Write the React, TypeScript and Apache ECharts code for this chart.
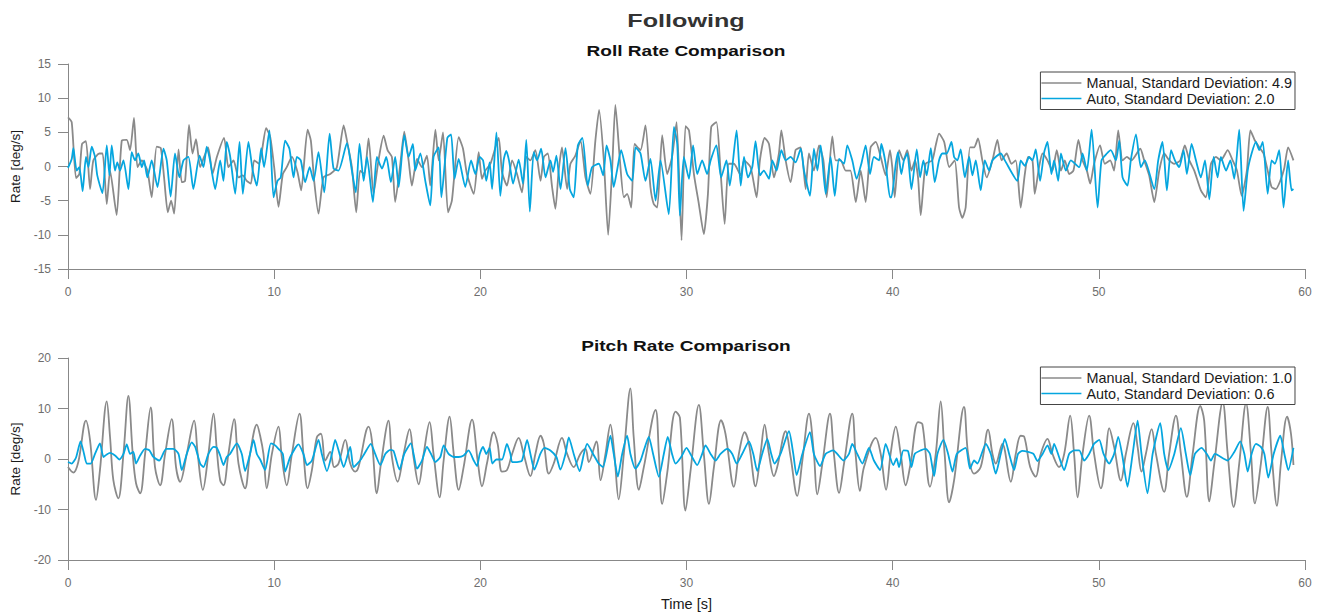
import React, { useEffect, useRef } from "react";
import * as echarts from "echarts";

const mainTitle = "Following";
const rollTitle = "Roll Rate Comparison";
const pitchTitle = "Pitch Rate Comparison";
const yName = "Rate [deg/s]";
const xName = "Time [s]";
const rollNames = ["Manual, Standard Deviation: 4.9", "Auto, Standard Deviation: 2.0"];
const pitchNames = ["Manual, Standard Deviation: 1.0", "Auto, Standard Deviation: 0.6"];

const rollManual: number[][] = [
  [0,7.2],[0.18,6.5],[0.39,-1.7],[0.55,-1.1],[0.68,3.3],[0.87,3.7],[1.07,-3.3],[1.23,0.9],[1.52,1.9],[1.68,1.9],[1.88,-5.5],[2.04,-0.6],[2.36,-7.1],[2.61,3.8],[2.85,3.9],[3.01,2.4],[3.2,7.1],[3.37,-0.1],[3.58,0.9],[3.85,-0.6],[4.06,-4.5],[4.3,2.9],[4.5,2.7],[4.66,-1.6],[4.84,-6.7],[5.0,-5.0],[5.15,-6.9],[5.36,2.5],[5.52,-2.3],[5.68,-2.1],[5.87,6.1],[6.04,1.9],[6.21,4.0],[6.41,-0.1],[6.6,1.4],[6.8,2.8],[7.01,-1.1],[7.22,1.4],[7.57,4.2],[7.78,-0.1],[8.03,0.9],[8.27,-1.6],[8.48,-1.3],[8.67,-2.1],[8.87,-2.5],[9.03,0.9],[9.27,0.4],[9.61,5.6],[9.81,4.3],[10.0,-0.1],[10.21,-5.9],[10.42,-1.1],[10.61,-0.1],[10.86,1.4],[11.13,-0.8],[11.31,-3.5],[11.62,5.4],[11.78,3.8],[11.94,-2.1],[12.15,-6.9],[12.39,-1.6],[12.72,-1.1],[13.04,-0.1],[13.37,6.0],[13.56,3.3],[13.77,-0.1],[13.98,-6.7],[14.17,-0.6],[14.37,-1.1],[14.58,4.1],[14.82,-4.0],[15.06,0.9],[15.31,4.5],[15.5,2.4],[15.71,1.4],[15.87,-5.2],[16.12,0.4],[16.31,5.1],[16.52,0.9],[16.68,-2.8],[16.93,1.1],[17.17,-0.1],[17.41,1.6],[17.57,-2.8],[17.82,5.4],[17.98,0.9],[18.19,5.0],[18.43,-6.7],[18.62,-5.0],[18.95,4.3],[19.16,2.6],[19.35,-1.1],[19.68,-4.0],[19.92,2.1],
  [20.08,-1.8],[20.24,-0.6],[20.49,0.4],[20.89,4.2],[21.05,-0.8],[21.29,-2.8],[21.54,0.9],[21.78,-1.1],[22.02,-3.8],[22.23,1.4],[22.43,0.9],[22.67,2.4],[22.92,-2.1],[23.08,1.4],[23.27,1.9],[23.48,-3.0],[23.64,-6.2],[23.8,-0.6],[23.96,2.8],[24.21,-3.3],[24.37,0.4],[24.61,1.6],[24.86,3.8],[25.1,-1.6],[25.34,-4.0],[25.58,3.8],[25.76,8.3],[25.99,0.9],[26.2,-10.0],[26.39,-0.6],[26.55,9.0],[26.77,0.9],[26.96,-4.5],[27.12,-4.0],[27.32,-6.0],[27.48,3.3],[27.77,2.4],[28.01,6.0],[28.25,-3.0],[28.41,-5.5],[28.58,-6.0],[28.82,4.6],[29.06,-1.1],[29.3,1.4],[29.52,6.5],[29.76,-10.8],[29.95,5.9],[30.12,5.3],[30.36,-1.1],[30.6,-5.5],[30.84,-9.9],[31.04,-4.0],[31.2,5.8],[31.45,6.5],[31.65,-0.6],[31.85,-8.4],[32.05,0.4],[32.3,0.4],[32.63,-1.3],[32.79,0.9],[33.11,-0.1],[33.4,-4.5],[33.56,0.9],[33.79,4.2],[34.0,3.3],[34.24,-1.6],[34.48,1.9],[34.6,5.3],[34.81,0.9],[35.05,-2.3],[35.29,2.4],[35.54,2.8],[35.78,-3.3],[35.94,1.9],[36.18,-0.6],[36.43,3.1],[36.64,0.9],[36.8,-4.5],[37.07,4.4],[37.24,0.9],[37.48,0.9],[37.72,-0.6],[37.95,-0.6],[38.21,-5.2],[38.45,-0.6],[38.69,-5.2],[38.93,2.8],[39.18,3.6],[39.42,1.4],[39.66,-1.3],[39.87,2.4],
  [39.98,-0.1],[40.1,-4.5],[40.31,2.4],[40.52,0.9],[40.71,2.4],[40.91,-0.6],[41.08,0.9],[41.23,-1.6],[41.36,-7.1],[41.6,0.4],[41.92,0.9],[42.09,3.1],[42.25,4.8],[42.5,3.6],[42.74,-0.1],[43.01,0.9],[43.22,-6.0],[43.38,-7.5],[43.54,-6.0],[43.75,2.8],[43.95,2.8],[44.14,4.1],[44.35,0.9],[44.56,-1.6],[44.84,0.9],[45.08,3.9],[45.28,0.9],[45.53,1.9],[45.76,0.4],[45.97,0.9],[46.21,-6.0],[46.41,-1.1],[46.57,1.4],[46.78,0.9],[46.89,-4.0],[47.1,-0.1],[47.27,1.9],[47.51,0.9],[47.75,-0.6],[47.96,2.4],[48.16,-0.6],[48.35,0.9],[48.56,-1.1],[48.77,-0.6],[49.01,3.9],[49.21,0.9],[49.42,-0.6],[49.58,-2.5],[49.77,0.4],[50.06,3.1],[50.29,0.4],[50.55,0.9],[50.74,-0.6],[50.94,5.3],[51.15,0.9],[51.36,1.4],[51.59,0.9],[52.01,2.6],[52.2,0.9],[52.44,-1.3],[52.69,-5.2],[52.93,-0.6],[53.17,1.9],[53.42,0.9],[53.66,0.4],[53.95,0.9],[54.17,3.1],[54.39,0.9],[54.63,-0.6],[54.95,-3.5],[55.19,-4.5],[55.44,0.4],[55.68,1.4],[55.92,0.9],[56.25,2.4],[56.49,0.9],[56.7,-0.6],[56.93,-4.3],[57.18,-0.6],[57.35,5.3],[57.57,3.8],[57.78,2.8],[57.99,1.9],[58.19,-0.6],[58.38,-3.0],[58.59,-3.3],[58.8,-2.1],[58.99,-0.3],[59.18,2.8],[59.44,0.9]
];

const rollAuto: number[][] = [
  [0,-0.2],[0.18,1.1],[0.26,2.7],[0.42,-0.6],[0.55,-0.1],[0.71,-3.6],[0.87,1.4],[0.99,-0.1],[1.15,2.9],[1.31,1.4],[1.42,-1.3],[1.67,-3.9],[1.88,3.1],[2.01,-1.3],[2.12,3.1],[2.28,-0.6],[2.39,0.6],[2.52,-0.6],[2.69,0.9],[2.93,-3.3],[3.09,2.1],[3.25,0.9],[3.41,1.9],[3.58,-0.1],[3.69,0.9],[3.85,-1.6],[4.06,0.9],[4.34,-3.0],[4.63,2.6],[4.79,0.9],[4.98,-4.4],[5.19,1.9],[5.4,-1.6],[5.6,0.9],[5.84,1.4],[6.08,-3.3],[6.38,1.6],[6.57,-0.1],[6.73,2.9],[6.89,0.9],[7.14,-3.3],[7.38,0.9],[7.54,-2.1],[7.7,3.6],[7.86,1.6],[8.11,-4.0],[8.32,3.6],[8.48,-4.0],[8.75,3.6],[8.96,-0.6],[9.16,-2.8],[9.37,2.7],[9.51,-0.1],[9.77,5.3],[9.97,-4.5],[10.16,-2.1],[10.32,-1.6],[10.53,3.8],[10.74,2.6],[10.94,-1.6],[11.1,1.4],[11.29,0.9],[11.5,-2.3],[11.72,-0.1],[11.91,-2.1],[12.15,2.1],[12.43,-3.8],[12.69,4.8],[12.88,-0.3],[13.12,-0.6],[13.53,3.4],[13.77,-0.6],[13.96,-3.8],[14.14,3.3],[14.34,-2.1],[14.5,1.4],[14.79,-5.2],[14.98,1.4],[15.23,-0.3],[15.44,1.4],[15.66,-2.3],[15.87,1.4],[16.04,-3.0],[16.31,4.6],[16.52,1.4],[16.73,3.3],[16.84,-0.6],[17.09,1.9],[17.33,-2.1],[17.57,-5.7],[17.73,1.4],[17.98,2.8],[18.11,-4.5],[18.4,4.2],[18.58,4.7],[18.75,-1.8],[18.95,1.1],[19.27,-3.0],[19.55,0.9],[19.76,-1.1],
  [19.97,1.4],[20.13,0.9],[20.29,-2.1],[20.45,0.6],[20.57,-3.3],[20.78,5.0],[20.97,-4.3],[21.13,0.9],[21.26,2.3],[21.39,0.9],[21.59,-2.5],[21.86,1.0],[22.07,-2.5],[22.23,3.9],[22.4,-6.6],[22.59,2.1],[22.75,0.9],[22.95,2.6],[23.16,-1.6],[23.4,0.9],[23.53,-0.8],[23.69,1.6],[23.89,-3.3],[24.13,2.7],[24.34,-3.3],[24.53,-4.5],[24.73,3.1],[24.95,4.2],[25.21,-2.8],[25.42,-0.1],[25.75,0.4],[25.96,-1.3],[26.12,3.1],[26.31,0.9],[26.47,-3.0],[26.63,-0.6],[26.83,2.4],[27.12,-1.1],[27.37,-2.1],[27.53,2.8],[27.77,1.9],[28.01,-2.1],[28.25,1.1],[28.5,-5.0],[28.74,0.9],[29.14,-7.0],[29.39,5.8],[29.55,3.3],[29.68,-7.2],[29.87,1.4],[30.12,-1.8],[30.32,3.1],[30.52,-1.1],[30.76,0.9],[31.0,-1.1],[31.17,0.9],[31.45,3.1],[31.68,-1.6],[31.94,0.9],[32.1,-2.8],[32.43,5.3],[32.63,-2.8],[32.79,1.4],[32.98,-1.6],[33.19,-0.1],[33.35,3.7],[33.56,-1.3],[33.75,-0.6],[34.0,-1.8],[34.16,0.9],[34.37,-0.6],[34.6,2.4],[34.81,0.9],[35.05,1.4],[35.29,0.6],[35.54,2.6],[35.7,-0.6],[35.99,-4.3],[36.18,2.6],[36.35,-0.6],[36.51,3.1],[36.75,-4.0],[36.99,1.4],[37.19,-4.3],[37.4,1.1],[37.64,0.4],[37.8,3.1],[38.04,0.9],[38.25,-1.8],[38.48,0.4],[38.69,3.1],[38.9,-1.1],[39.09,1.4],[39.34,0.9],[39.45,3.3],[39.66,0.4],[39.87,-4.5],
  [39.94,-4.5],[40.15,0.4],[40.26,2.1],[40.42,-1.1],[40.55,0.9],[40.71,1.9],[40.91,-3.3],[41.17,2.5],[41.33,-1.6],[41.49,0.9],[41.65,-1.3],[41.85,2.7],[42.04,-2.3],[42.25,0.9],[42.41,1.9],[42.62,1.9],[42.85,3.6],[42.98,1.4],[43.14,0.9],[43.3,2.5],[43.5,-1.6],[43.71,1.4],[43.87,-1.3],[44.03,0.9],[44.27,-3.5],[44.47,0.9],[44.68,-0.6],[44.84,0.9],[45.24,1.9],[45.44,0.9],[46.05,-2.1],[46.21,0.9],[46.41,0.1],[46.62,1.4],[46.78,0.9],[46.94,2.5],[47.15,-2.1],[47.35,2.1],[47.51,3.6],[47.7,-1.1],[47.83,0.9],[48.03,-2.1],[48.16,1.9],[48.4,-0.6],[48.64,0.9],[49.05,-0.1],[49.21,1.9],[49.42,-0.6],[49.65,5.4],[49.94,-6.0],[50.13,0.9],[50.39,1.9],[50.58,2.4],[50.83,0.9],[50.99,3.8],[51.15,-1.6],[51.39,-2.8],[51.55,0.9],[51.8,4.7],[52.04,-0.1],[52.23,0.9],[52.69,-3.3],[52.88,0.9],[53.09,3.6],[53.3,-3.5],[53.5,2.4],[53.69,0.9],[53.9,-0.1],[54.11,2.4],[54.27,-1.1],[54.5,3.3],[54.71,0.9],[54.95,-1.6],[55.15,0.9],[55.36,-4.8],[55.57,1.4],[55.76,-1.6],[55.92,1.4],[56.17,-0.6],[56.38,0.9],[56.57,-1.8],[56.81,5.4],[57.02,-6.5],[57.22,-0.6],[57.41,1.9],[57.62,3.6],[57.78,2.4],[57.95,3.6],[58.19,-4.0],[58.38,0.9],[58.54,0.4],[58.75,2.4],[58.96,-6.0],[59.18,0.9],[59.35,-3.5],[59.44,-3.3]
];

const pitchManual: number[][] = [
  [0,-1.6],[0.26,-2.7],[0.5,-0.6],[0.87,7.6],[1.07,3.7],[1.36,-8.1],[1.55,-2.2],[1.88,11.4],[2.04,4.3],[2.2,-4.2],[2.44,-7.8],[2.69,1.0],[2.93,12.5],[3.14,1.0],[3.3,-4.8],[3.5,-6.8],[3.74,1.0],[4.01,10.2],[4.22,-1.6],[4.47,-5.2],[4.71,1.0],[5.03,7.9],[5.24,-1.6],[5.44,-4.5],[5.76,1.0],[6.12,7.6],[6.29,1.0],[6.54,-6.1],[6.81,1.0],[7.06,9.0],[7.22,1.7],[7.38,-4.2],[7.54,-5.2],[7.78,1.0],[8.06,7.9],[8.27,-0.9],[8.59,-5.8],[8.83,1.0],[9.16,6.8],[9.32,4.6],[9.48,1.0],[9.64,-5.8],[9.89,1.0],[10.21,6.4],[10.37,0.4],[10.61,-5.2],[10.86,1.0],[11.23,9.0],[11.42,1.0],[11.62,-5.8],[11.83,-2.2],[12.07,4.3],[12.27,5.0],[12.48,-0.3],[12.72,1.4],[12.91,-1.6],[13.12,-0.9],[13.45,3.8],[13.69,-0.9],[13.93,-2.5],[14.09,-1.6],[14.58,6.4],[14.74,3.7],[14.98,-6.8],[15.18,-0.9],[15.55,7.6],[15.71,0.4],[15.99,-4.5],[16.28,1.0],[16.57,5.9],[16.76,0.4],[17.01,-5.0],[17.25,1.0],[17.54,7.3],[17.73,1.0],[18.03,-7.6],[18.22,-0.3],[18.51,8.4],[18.71,1.0],[18.95,-6.1],[19.19,-1.6],[19.6,7.8],
  [19.87,-0.3],[20.08,-5.4],[20.32,-0.9],[20.65,5.3],[20.84,3.0],[21.05,-2.5],[21.29,-2.2],[21.54,1.0],[21.86,4.2],[22.1,1.0],[22.43,-3.4],[22.67,1.0],[22.92,4.6],[23.08,3.0],[23.32,-2.9],[23.56,-0.9],[23.96,4.2],[24.21,1.0],[24.53,-1.6],[24.85,1.0],[25.1,2.0],[25.26,-0.6],[25.63,3.5],[25.83,-4.2],[26.07,1.0],[26.31,6.8],[26.5,1.0],[26.71,-8.0],[26.96,1.0],[27.28,14.0],[27.44,4.3],[27.69,-6.1],[27.93,-1.6],[28.5,9.7],[28.66,1.0],[28.82,-8.9],[29.06,-2.9],[29.47,9.4],[29.68,8.2],[29.95,-10.2],[30.2,-2.2],[30.6,10.7],[30.84,1.0],[31.09,-8.9],[31.33,-1.6],[31.68,7.7],[31.89,5.0],[32.3,-5.5],[32.54,1.0],[32.82,5.3],[33.03,3.0],[33.35,-5.4],[33.59,1.0],[33.79,6.8],[34.0,1.0],[34.24,-3.4],[34.4,-1.6],[34.81,5.5],[35.05,0.4],[35.37,-7.3],[35.62,-0.3],[35.94,9.0],[36.18,1.0],[36.34,-7.0],[36.59,-0.9],[36.96,9.0],[37.15,1.0],[37.4,-6.7],[37.64,-0.9],[38.04,9.0],[38.2,1.0],[38.41,-6.3],[38.61,-1.6],[39.18,4.2],[39.42,1.0],[39.68,-6.1],
  [39.9,1.0],[40.15,6.4],[40.39,1.0],[40.63,-5.2],[40.87,-0.9],[41.23,7.3],[41.44,6.9],[41.81,-5.5],[42.09,1.0],[42.33,11.4],[42.52,1.0],[42.74,-8.6],[42.98,-4.2],[43.46,10.3],[43.66,1.0],[43.95,-2.9],[44.27,-1.6],[44.63,5.8],[44.84,1.0],[45.0,-0.9],[45.32,3.0],[45.73,-4.5],[45.97,1.0],[46.21,4.6],[46.38,4.4],[46.67,-1.6],[46.94,-3.5],[47.18,1.0],[47.51,4.0],[47.75,1.0],[48.07,-1.6],[48.32,1.0],[48.61,8.6],[48.8,1.0],[48.97,-7.6],[49.21,1.0],[49.53,8.6],[49.77,1.0],[50.1,-5.8],[50.34,1.0],[50.5,6.1],[50.74,2.4],[51.07,-4.3],[51.31,1.0],[51.68,7.1],[51.88,2.4],[52.07,-2.5],[52.28,1.0],[52.56,5.9],[52.77,1.0],[53.17,-6.5],[53.41,1.0],[53.74,8.6],[53.98,1.0],[54.27,-7.5],[54.55,1.0],[54.92,10.5],[55.11,7.6],[55.36,-8.4],[55.6,-0.9],[56.01,11.2],[56.25,1.0],[56.54,-9.5],[56.81,-0.9],[57.14,11.0],[57.38,1.0],[57.57,-8.8],[57.86,-0.9],[58.19,10.3],[58.38,1.0],[58.64,-9.3],[58.83,-0.9],[59.13,8.4],[59.32,5.0],[59.44,-1.2]
];

const pitchAuto: number[][] = [
  [0,-0.6],[0.18,-0.9],[0.39,0.3],[0.61,3.5],[0.78,1.0],[0.91,-0.9],[1.1,-0.9],[1.31,1.0],[1.55,3.1],[1.72,0.4],[1.88,0.9],[2.04,1.2],[2.28,0.7],[2.49,-0.1],[2.69,1.0],[2.85,2.9],[3.01,1.0],[3.17,1.4],[3.3,-0.9],[3.5,0.7],[3.74,2.0],[3.95,1.7],[4.14,0.4],[4.43,-0.3],[4.76,2.0],[5.11,2.0],[5.36,1.0],[5.52,-2.2],[5.76,1.0],[6.0,3.3],[6.17,2.4],[6.41,-0.9],[6.57,-1.6],[6.81,1.0],[7.06,2.4],[7.22,2.2],[7.38,0.7],[7.54,-1.2],[7.7,0.4],[7.86,1.0],[8.19,3.1],[8.43,1.0],[8.59,-2.4],[8.83,1.0],[9.0,3.8],[9.16,1.0],[9.32,-0.1],[9.56,-2.2],[9.84,3.1],[10.05,2.7],[10.21,2.0],[10.42,1.0],[10.53,-2.5],[10.78,0.4],[11.18,2.9],[11.42,1.0],[11.59,-1.2],[11.83,-0.3],[12.15,3.8],[12.31,1.0],[12.56,-2.4],[12.8,1.0],[12.96,3.8],[13.17,1.0],[13.37,-1.6],[13.69,2.4],[13.85,-1.6],[14.17,-0.3],[14.37,1.0],[14.69,3.0],[14.9,1.0],[15.15,-1.2],[15.39,1.0],[15.63,1.8],[15.79,1.6],[16.08,-2.1],[16.31,1.0],[16.63,3.1],[16.93,-1.9],[17.17,-0.3],[17.41,2.4],[17.61,1.0],[17.82,-0.6],[18.06,0.4],[18.22,2.7],[18.46,1.0],[18.71,0.4],[18.95,0.4],[19.19,0.7],[19.43,1.7],[19.68,-0.3],[19.84,-1.4],
  [19.97,1.0],[20.13,2.4],[20.29,1.0],[20.45,2.2],[20.58,-0.9],[20.78,-0.1],[21.05,-0.1],[21.29,3.0],[21.46,1.0],[21.54,-0.6],[21.78,-0.6],[22.02,-0.3],[22.27,3.8],[22.43,1.0],[22.62,-2.1],[22.91,1.0],[23.11,2.2],[23.4,1.7],[23.69,0.4],[23.88,-2.1],[24.13,1.0],[24.29,4.3],[24.53,1.0],[24.82,-2.4],[25.02,1.0],[25.18,3.0],[25.47,1.0],[25.74,-0.9],[25.95,-1.6],[26.31,4.6],[26.47,1.0],[26.67,-3.5],[26.88,1.0],[27.12,4.6],[27.28,1.0],[27.52,-1.9],[27.77,-0.3],[27.93,1.7],[28.17,4.4],[28.38,1.0],[28.66,-3.5],[28.9,1.0],[29.09,4.4],[29.3,1.0],[29.47,-0.9],[29.74,0.4],[30.0,2.2],[30.19,1.0],[30.52,-1.2],[30.76,1.0],[30.92,2.7],[31.17,1.0],[31.41,-0.3],[31.65,1.0],[31.98,2.0],[32.22,1.0],[32.43,-0.9],[32.7,1.0],[33.03,3.5],[33.24,1.0],[33.43,-2.4],[33.67,1.0],[33.92,4.0],[34.11,1.0],[34.27,-0.9],[34.56,1.0],[34.97,5.5],[35.18,1.0],[35.34,-3.2],[35.62,1.0],[35.99,5.3],[36.18,1.0],[36.48,-1.4],[36.75,1.0],[37.12,1.7],[37.31,1.0],[37.61,-0.3],[37.88,1.0],[38.04,3.0],[38.28,1.0],[38.53,-0.9],[38.85,2.2],[39.09,-0.3],[39.39,-2.2],[39.66,3.0],
  [40.03,-1.2],[40.19,0.1],[40.31,-1.6],[40.52,1.7],[40.74,1.6],[40.91,-1.6],[41.07,1.0],[41.36,1.7],[41.6,2.0],[41.81,1.0],[42.01,-3.4],[42.17,1.0],[42.46,3.8],[42.69,1.0],[42.9,-2.5],[43.11,1.0],[43.54,2.2],[43.75,-1.9],[43.95,-0.3],[44.11,-0.9],[44.52,3.0],[44.76,1.0],[45.0,-2.9],[45.24,1.0],[45.44,4.0],[45.65,1.0],[45.89,-2.2],[46.08,1.0],[46.29,1.6],[46.57,1.4],[46.83,1.0],[47.02,-0.4],[47.27,1.0],[47.51,2.7],[47.7,1.0],[47.83,3.0],[48.07,0.4],[48.32,-2.2],[48.56,1.0],[48.8,1.7],[49.05,1.7],[49.29,-0.3],[49.53,1.0],[49.77,3.0],[50.02,3.8],[50.23,1.0],[50.5,-0.9],[50.74,1.0],[50.94,4.4],[51.15,0.4],[51.39,-5.5],[51.64,1.0],[51.88,7.6],[52.07,1.0],[52.36,-6.8],[52.61,1.0],[52.98,7.1],[53.17,1.0],[53.37,-2.2],[53.66,1.0],[53.98,6.1],[54.22,1.0],[54.43,-3.2],[54.66,1.0],[54.98,2.2],[55.24,1.0],[55.44,-0.3],[55.63,1.0],[56.25,-0.3],[56.57,1.4],[56.86,3.5],[57.06,1.0],[57.22,-2.5],[57.41,1.0],[57.62,3.0],[57.86,2.4],[58.03,1.0],[58.22,-3.7],[58.48,1.0],[58.8,4.6],[59.0,1.0],[59.19,-2.2],[59.44,2.2]
];

const xTicks = { min: 0, max: 60, interval: 10 };
const rollTicks = { min: -15, max: 15, interval: 5 };
const pitchTicks = { min: -20, max: 20, interval: 10 };

const GREY = "#8a8a8a";
const BLUE = "#05a6df";
const FONT = "'Liberation Sans', Arial, sans-serif";

function xAxisOpt(gridIndex: number, withName: boolean) {
  return {
    type: "value",
    gridIndex,
    ...xTicks,
    name: withName ? xName : "",
    nameLocation: "middle",
    nameGap: 36,
    nameTextStyle: { color: "#1a1a1a", fontSize: 14.5, fontFamily: FONT },
    axisLine: { show: true, onZero: false, lineStyle: { color: "#888", width: 1 } },
    axisTick: { show: true, inside: false, length: 10, lineStyle: { color: "#888" } },
    axisLabel: { color: "#6e6e6e", fontSize: 12, fontFamily: FONT, margin: 17 },
    splitLine: { show: false },
  };
}

function yAxisOpt(gridIndex: number, ticks: { min: number; max: number; interval: number }) {
  return {
    type: "value",
    gridIndex,
    ...ticks,
    name: yName,
    nameLocation: "middle",
    nameRotate: 90,
    nameGap: 42,
    nameTextStyle: { color: "#1a1a1a", fontSize: 13.5, fontFamily: FONT },
    axisLine: { show: true, onZero: false, lineStyle: { color: "#888", width: 1 } },
    axisTick: { show: true, inside: false, length: 10, lineStyle: { color: "#888" } },
    axisLabel: { color: "#6e6e6e", fontSize: 12, fontFamily: FONT, margin: 17 },
    splitLine: { show: false },
  };
}

function legendOpt(top: number, names: string[]) {
  return {
    data: names,
    orient: "vertical",
    right: 28,
    top,
    icon: "path://M0,0H40V1.3H0Z",
    itemWidth: 40,
    itemHeight: 14,
    itemGap: 1.5,
    padding: [4, 3, 4, 1],
    borderColor: "#444",
    borderWidth: 1,
    backgroundColor: "#fff",
    textStyle: { color: "#1a1a1a", fontSize: 14.4, fontFamily: FONT },
  };
}

function lineSeries(name: string, data: number[][], color: string, idx: number, smooth: number | boolean) {
  return {
    name,
    type: "line",
    xAxisIndex: idx,
    yAxisIndex: idx,
    data,
    symbol: "none",
    showSymbol: false,
    smooth,
    lineStyle: { color, width: 1.8 },
    itemStyle: { color },
    emphasis: { disabled: true },
  };
}

function titleText(text: string, y: number, size: number, scaleX: number, fill: string) {
  return {
    type: "text",
    x: 686,
    y,
    scaleX,
    style: {
      text,
      fill,
      font: `bold ${size}px ${FONT}`,
      align: "center",
      verticalAlign: "middle",
      textAlign: "center",
      textVerticalAlign: "middle",
    },
  };
}

export default function App() {
  const ref = useRef<HTMLDivElement>(null);
  useEffect(() => {
    if (!ref.current) return;
    const chart = echarts.init(ref.current, null, { renderer: "svg" });
    chart.setOption({
      animation: false,
      backgroundColor: "#fff",
      textStyle: { fontFamily: FONT },
      grid: [
        { left: 68, top: 64, width: 1237, height: 205 },
        { left: 68, top: 358, width: 1237, height: 205 },
      ],
      xAxis: [xAxisOpt(0, false), xAxisOpt(1, true)],
      yAxis: [yAxisOpt(0, rollTicks), yAxisOpt(1, pitchTicks)],
      legend: [legendOpt(72, rollNames), legendOpt(367, pitchNames)],
      series: [
        lineSeries(rollNames[0], rollManual, GREY, 0, 0.2),
        lineSeries(rollNames[1], rollAuto, BLUE, 0, 0.2),
        lineSeries(pitchNames[0], pitchManual, GREY, 1, 0.35),
        lineSeries(pitchNames[1], pitchAuto, BLUE, 1, 0.2),
      ],
      graphic: [
        titleText(mainTitle, 21, 18, 1.4, "#333"),
        titleText(rollTitle, 51, 14, 1.36, "#111"),
        titleText(pitchTitle, 346, 14, 1.36, "#111"),
      ],
    });
    return () => chart.dispose();
  }, []);
  return (
    <div
      ref={ref}
      style={{ position: "absolute", left: 0, top: 0, width: 1323, height: 612, background: "#fff" }}
    />
  );
}
